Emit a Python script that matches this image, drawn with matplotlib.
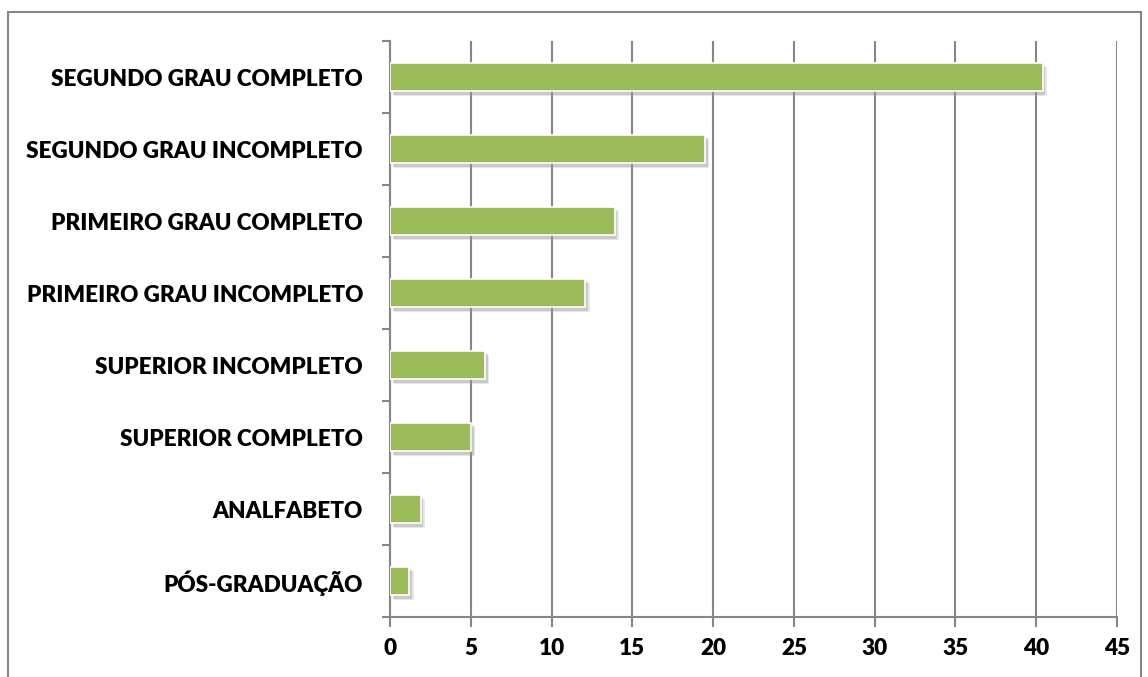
import matplotlib
matplotlib.use("Agg")
import matplotlib.pyplot as plt
import matplotlib.patheffects as pe
from matplotlib.patches import Rectangle

categories = ["SEGUNDO GRAU COMPLETO", "SEGUNDO GRAU INCOMPLETO", "PRIMEIRO GRAU COMPLETO",
              "PRIMEIRO GRAU INCOMPLETO", "SUPERIOR INCOMPLETO", "SUPERIOR COMPLETO",
              "ANALFABETO", "PÓS-GRADUAÇÃO"]
values = [40.4, 19.5, 13.9, 12.1, 5.9, 5.0, 1.9, 1.2]
xticks = [0, 5, 10, 15, 20, 25, 30, 35, 40, 45]

W, H = 1148, 677
fig = plt.figure(figsize=(W / 100, H / 100), dpi=100)
fig.patches.append(Rectangle((8 / W, -0.01), (1141 - 8) / W, (H - 12) / H + 0.01,
                             transform=fig.transFigure, fill=False,
                             edgecolor="#868686", linewidth=1.5))

left, right, top, bottom = 390, 1117, 41, 617
ax = fig.add_axes([left / W, 1 - bottom / H, (right - left) / W, (bottom - top) / H])

n = len(categories)
ypos = list(range(n))[::-1]
bars = ax.barh(ypos, values, height=0.4, color="#9BBB59", edgecolor="white",
               linewidth=1.2, zorder=3)
for b in bars:
    b.set_path_effects([pe.SimplePatchShadow(offset=(2, -2.5), shadow_rgbFace="#8a8a8a", alpha=0.35),
                        pe.SimplePatchShadow(offset=(3, -3.5), shadow_rgbFace="#a0a0a0", alpha=0.25),
                        pe.Normal()])

ax.set_xlim(0, 45)
ax.set_ylim(-0.5, n - 0.5)
ax.set_xticks(xticks)
ax.set_xticklabels([str(t) for t in xticks])
ax.set_yticks(ypos)
ax.set_yticklabels(categories)
ax.set_yticks([i - 0.5 for i in range(n + 1)], minor=True)

ax.grid(axis="x", color="#868686", linewidth=1.5, zorder=0)
ax.set_axisbelow(True)
for s in ["top", "right"]:
    ax.spines[s].set_visible(False)
for s in ["left", "bottom"]:
    ax.spines[s].set_color("#868686")
    ax.spines[s].set_linewidth(1.5)

font = "Lato"
ax.tick_params(axis="y", which="major", length=0, pad=19.5)
ax.tick_params(axis="y", which="minor", length=6, width=1.5, color="#868686", direction="out")
ax.tick_params(axis="x", which="major", length=7, width=1.5, color="#868686", pad=8)
for lab in ax.get_yticklabels():
    lab.set_fontfamily(font)
    lab.set_fontweight("heavy")
    lab.set_fontsize(16.2)
for lab in ax.get_xticklabels():
    lab.set_fontfamily(font)
    lab.set_fontweight("heavy")
    lab.set_fontsize(16.2)

fig.savefig("out.png", dpi=100)
